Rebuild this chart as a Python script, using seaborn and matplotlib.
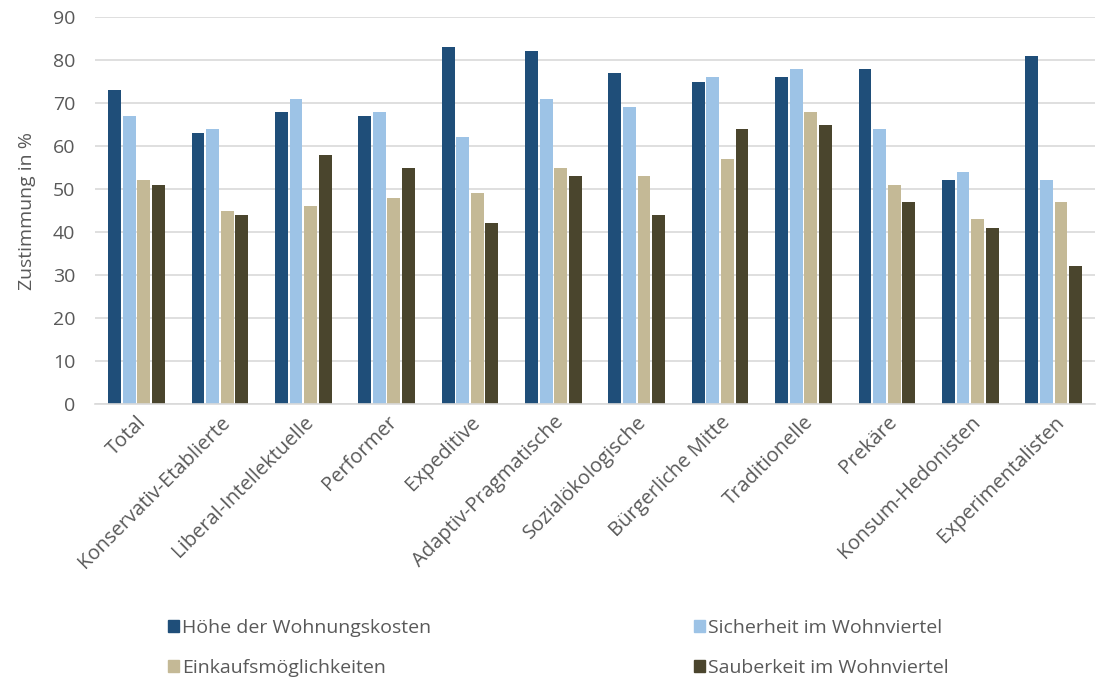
import pandas as pd
import numpy as np
import matplotlib
matplotlib.use("Agg")
import matplotlib.pyplot as plt
import seaborn as sns
from matplotlib.patches import Patch

# milieus on the x axis
categories = ["Total", "Konservativ-Etablierte", "Liberal-Intellektuelle", "Performer",
              "Expeditive", "Adaptiv-Pragmatische", "Sozialökologische", "Bürgerliche Mitte",
              "Traditionelle", "Prekäre", "Konsum-Hedonisten", "Experimentalisten"]

series_names = ["Höhe der Wohnungskosten", "Sicherheit im Wohnviertel",
                "Einkaufsmöglichkeiten", "Sauberkeit im Wohnviertel"]

wohnkosten = [73, 63, 68, 67, 83, 82, 77, 75, 76, 78, 52, 81]
sicherheit = [67, 64, 71, 68, 62, 71, 69, 76, 78, 64, 54, 52]
einkauf = [52, 45, 46, 48, 49, 55, 53, 57, 68, 51, 43, 47]
sauberkeit = [51, 44, 58, 55, 42, 53, 44, 64, 65, 47, 41, 32]

colors = ["#1F4E79", "#9DC3E6", "#C4B996", "#4A452D"]
text_col = "#595959"

rows = []
for name, vals in zip(series_names, [wohnkosten, sicherheit, einkauf, sauberkeit]):
    for cat, v in zip(categories, vals):
        rows.append({"Milieu": cat, "Serie": name, "Wert": v})
df = pd.DataFrame(rows)

sns.set_style("white")
plt.rcParams["font.family"] = ["Open Sans", "DejaVu Sans"]

fig = plt.figure(figsize=(11.02, 6.82), dpi=100)
ax = fig.add_axes([0.086, 0.4076, 0.908, 0.5674])

sns.barplot(data=df, x="Milieu", y="Wert", hue="Serie", hue_order=series_names,
            order=categories, palette=colors, width=0.7, gap=0.12, ax=ax,
            legend=False, saturation=1, linewidth=0)

ax.set_ylim(0, 90)
ax.set_xlim(-0.5, len(categories) - 0.5)
ax.set_yticks(range(0, 91, 10))
ax.yaxis.grid(True, color="#D9D9D9", linewidth=1.2)
ax.set_axisbelow(True)
for s in ["top", "right", "left"]:
    ax.spines[s].set_visible(False)
ax.spines["bottom"].set_color("#D9D9D9")
ax.spines["bottom"].set_linewidth(1.2)
ax.tick_params(axis="both", length=0, labelsize=14, colors=text_col)
ax.tick_params(axis="y", pad=14)
ax.tick_params(axis="x", pad=6, labelsize=14.5)
plt.setp(ax.get_xticklabels(), rotation=45, ha="right", rotation_mode="anchor")
ax.set_xlabel("")
ax.set_ylabel("Zustimmung in %", fontsize=14, color=text_col, labelpad=12)

handles = [Patch(color=c) for c in colors]
order = [0, 2, 1, 3]
fig.legend([handles[i] for i in order], [series_names[i] for i in order],
           ncol=2, loc="upper left", bbox_to_anchor=(0.152, 0.093), frameon=False,
           fontsize=14, labelcolor=text_col, handlelength=0.6, handleheight=0.6,
           handletextpad=0.15, columnspacing=13.5, labelspacing=1.15,
           borderaxespad=0, borderpad=0)

fig.savefig("out.png", dpi=100)
